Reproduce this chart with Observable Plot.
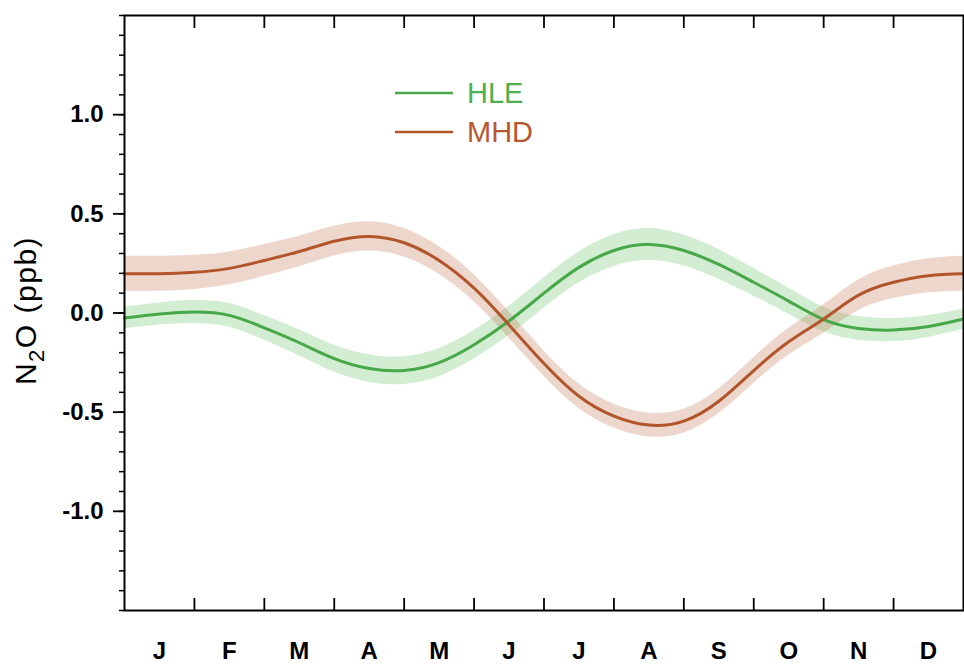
<!DOCTYPE html>
<html>
<head>
<meta charset="utf-8">
<script src="https://cdn.jsdelivr.net/npm/d3@7"></script>
<script src="https://cdn.jsdelivr.net/npm/@observablehq/plot@0.6"></script>
<style>
  html, body { margin: 0; padding: 0; background: #fff; }
  #chart { position: relative; width: 964px; height: 664px; }
</style>
</head>
<body>
<div id="chart"></div>
<script>
// ---- data ----
const monthLabels = ["J", "F", "M", "A", "M", "J", "J", "A", "S", "O", "N", "D"];
const monthBounds = [1, 2, 3, 4, 5, 6, 7, 8, 9, 10, 11];
const monthCenters = [0.5, 1.5, 2.5, 3.5, 4.5, 5.5, 6.5, 7.5, 8.5, 9.5, 10.5, 11.5];
const timeGrid = [0, 0.5, 1, 1.5, 2, 2.5, 3, 3.5, 4, 4.5, 5, 5.5, 6, 6.5, 7, 7.5, 8, 8.5, 9, 9.5, 10, 10.5, 11, 11.5, 12];
const hleValues = [-0.025, -0.005, 0.005, -0.012, -0.075, -0.15, -0.23, -0.28, -0.29, -0.25, -0.16, -0.04, 0.10, 0.23, 0.315, 0.346, 0.315, 0.245, 0.155, 0.06, -0.033, -0.078, -0.086, -0.068, -0.03];
const mhdValues = [0.198, 0.198, 0.205, 0.225, 0.265, 0.31, 0.362, 0.386, 0.354, 0.265, 0.125, -0.06, -0.255, -0.42, -0.52, -0.565, -0.545, -0.445, -0.29, -0.145, -0.03, 0.09, 0.155, 0.188, 0.198];
const hleErr = [0.055, 0.056, 0.058, 0.06, 0.062, 0.065, 0.068, 0.07, 0.07, 0.071, 0.072, 0.074, 0.076, 0.078, 0.08, 0.08, 0.078, 0.075, 0.07, 0.066, 0.062, 0.06, 0.058, 0.055, 0.052];
const mhdErr = [0.088, 0.088, 0.086, 0.083, 0.08, 0.077, 0.075, 0.074, 0.072, 0.07, 0.068, 0.066, 0.064, 0.062, 0.06, 0.06, 0.06, 0.062, 0.065, 0.068, 0.072, 0.077, 0.082, 0.086, 0.088];
const yMajorTicks = [-1.0, -0.5, 0.0, 0.5, 1.0];
const yMinorTicks = d3.range(-15, 16).map(i => i / 10);
const seriesNames = ["HLE", "MHD"];

// ---- styling ----
const lineColor = {HLE: "#46a846", MHD: "#b2552b"};
const bandColor = {HLE: "#6cc46c", MHD: "#c47a55"};
const textColor = {HLE: "#4cb04c", MHD: "#b5582e"};
const font = "'Liberation Sans', Arial, Helvetica, sans-serif";

const rows = [];
timeGrid.forEach((t, i) => {
  rows.push({site: "HLE", t, v: hleValues[i], lo: hleValues[i] - hleErr[i], hi: hleValues[i] + hleErr[i]});
  rows.push({site: "MHD", t, v: mhdValues[i], lo: mhdValues[i] - mhdErr[i], hi: mhdValues[i] + mhdErr[i]});
});

const curve = "natural";
const marks = [];
for (const s of seriesNames) {
  const d = rows.filter(r => r.site === s);
  marks.push(Plot.areaY(d, {x: "t", y1: "lo", y2: "hi", curve, fill: bandColor[s], fillOpacity: 0.3}));
}
for (const s of seriesNames) {
  const d = rows.filter(r => r.site === s);
  marks.push(Plot.lineY(d, {x: "t", y: "v", curve, stroke: lineColor[s], strokeWidth: 3}));
}

const chart = Plot.plot({
  width: 964,
  height: 664,
  marginLeft: 124,
  marginRight: 1,
  marginTop: 15,
  marginBottom: 54,
  style: {fontFamily: font, background: "white", color: "black"},
  x: {domain: [0, 12]},
  y: {domain: [-1.5, 1.5]},
  marks: [
    ...marks,
    Plot.axisY(yMajorTicks, {anchor: "left", tickSize: 11, tickPadding: 10, strokeWidth: 1.8,
      tickFormat: d => d.toFixed(1), fontSize: 24, fontWeight: "bold", label: null}),
    Plot.axisY(yMinorTicks, {anchor: "left", tickSize: 5, strokeWidth: 1.5, tickFormat: () => "", label: null}),
    Plot.axisX(monthBounds, {anchor: "bottom", tickSize: 12, dy: -12, strokeWidth: 1.8, tickFormat: () => "", label: null}),
    Plot.axisX(monthBounds, {anchor: "top", tickSize: 12, dy: 12, strokeWidth: 1.8, tickFormat: () => "", label: null}),
    Plot.axisX(monthCenters, {anchor: "bottom", tickSize: 0, tickPadding: 31,
      tickFormat: d => monthLabels[Math.floor(d)], fontSize: 24, fontWeight: "bold", label: null}),
    Plot.frame({stroke: "black", strokeWidth: 2})
  ]
});

document.getElementById("chart").appendChild(chart);

const svg = d3.select(chart);
// y-axis title with subscript
const title = svg.append("text")
  .attr("transform", "translate(36,310.5) rotate(-90)")
  .attr("text-anchor", "middle")
  .attr("font-family", font)
  .attr("font-size", 30)
  .attr("letter-spacing", 1.5)
  .attr("fill", "black");
title.append("tspan").text("N");
title.append("tspan").attr("dy", 8).attr("font-size", 22).text("2");
title.append("tspan").attr("dy", -8).text("O (ppb)");

// legend
const legend = svg.append("g").attr("font-family", font).attr("font-size", 29).attr("text-anchor", "start");
seriesNames.forEach((s, i) => {
  const y = 93 + i * 39;
  legend.append("line").attr("x1", 395).attr("x2", 453).attr("y1", y).attr("y2", y)
    .attr("stroke", lineColor[s]).attr("stroke-width", 2.5);
  legend.append("text").attr("x", 467).attr("y", y).attr("dy", "0.36em")
    .attr("text-anchor", "start").attr("fill", textColor[s]).text(s);
});
</script>
</body>
</html>
